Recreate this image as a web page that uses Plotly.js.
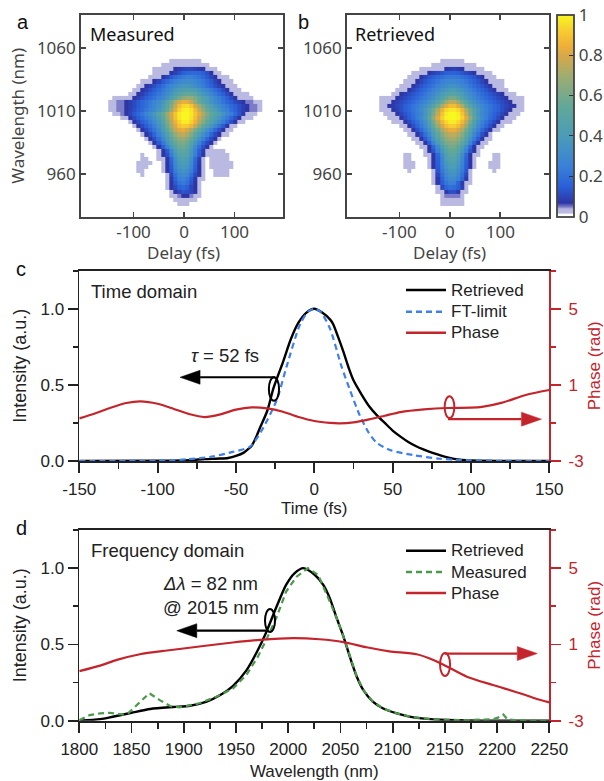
<!DOCTYPE html>
<html><head><meta charset="utf-8"><script src="https://cdn.plot.ly/plotly-3.0.1.min.js"></script>
<style>html,body{margin:0;padding:0;background:#fff}#g{width:604px;height:781px}</style></head>
<body><div id="g"></div><script>
const delaysA=[-146,-138,-130,-122,-114,-106,-98,-90,-82,-74,-66,-58,-50,-42,-34,-26,-18,-10,-2,6,14,22,30,38,46,54,62,70,78,86,94,102,110,118,126,134,142,150];
const delaysB=[-136,-128,-120,-112,-104,-96,-88,-80,-72,-64,-56,-48,-40,-32,-24,-16,-8,0,8,16,24,32,40,48,56,64,72,80,88,96,104,112,120,128,136,144];
const wavelengths=[1049.9,1046.6,1043.4,1040.2,1036.9,1033.7,1030.5,1027.2,1024,1020.8,1017.5,1014.3,1011.1,1007.8,1004.6,1001.4,998.1,994.9,991.7,988.4,985.2,982,978.7,975.5,972.3,969,965.8,962.6,959.3,956.1,952.9,949.6,946.4,943.2,939.9,936.7];
// FROG traces, percent of peak. Each row: segments of [first column, values...]
const measuredRows=[
[[15,3,3,3,3,3,3,3,3]],
[[13,3,3,3,3,3,3,3,3,3,3,3,3]],
[[11,3,3,3,3,3,7,8,9,10,10,9,8,7,3,3,3]],
[[11,3,3,3,3,7,9,12,15,17,18,18,17,15,12,7,3,3]],
[[10,3,3,3,7,10,14,18,21,23,25,25,23,21,18,14,10,7,3,3,3]],
[[8,3,3,3,7,10,14,18,22,25,28,30,31,30,28,25,22,18,14,10,7,3,3,3]],
[[7,3,3,7,9,12,16,20,24,28,32,35,37,37,35,32,28,24,20,16,12,9,7,3,3,3]],
[[6,3,3,7,9,12,15,19,23,27,32,37,41,44,45,44,41,37,32,27,23,19,15,11,7,3,3,3]],
[[5,3,3,7,9,12,15,18,22,26,31,37,43,49,53,55,54,50,44,38,33,28,23,19,15,11,7,3,3,3,3]],
[[1,3,3,3,3,3,7,9,12,15,18,21,25,29,35,42,50,58,65,68,67,61,53,46,40,34,29,24,20,15,11,7,3,3,3,3]],
[[0,3,3,5,5,7,9,11,14,17,20,23,27,32,38,47,58,70,80,84,83,76,66,56,48,41,35,30,25,21,17,14,11,9,7,5,5,3,3]],
[[0,3,3,5,5,7,9,11,14,17,20,24,28,33,40,50,62,76,88,94,95,90,80,69,59,50,43,36,31,26,22,18,15,12,9,7,5,5,3]],
[[0,3,3,5,5,7,9,12,15,18,22,26,30,36,44,55,68,82,93,98,99,96,87,76,65,56,48,41,35,29,25,20,16,12,9,7,5,5,3]],
[[1,3,3,5,7,10,14,18,22,27,32,38,46,56,68,80,90,97,100,100,97,90,82,72,62,54,47,41,35,29,24,18,13,8,3,3,3]],
[[3,3,3,7,11,15,19,23,28,34,42,52,65,78,89,97,100,100,96,88,78,68,58,50,43,36,29,23,17,12,7,3,3,3]],
[[5,3,7,11,15,19,24,30,38,48,61,74,85,93,98,98,93,85,74,63,53,45,38,31,24,18,12,7,3,3]],
[[6,3,7,11,15,20,26,34,44,57,70,81,89,92,91,86,76,64,54,45,37,29,21,14,7,3,3]],
[[7,3,7,11,16,22,30,40,52,65,76,82,84,80,72,61,51,42,34,26,18,12,7,3,3]],
[[8,3,7,11,17,25,34,45,57,68,74,76,72,63,52,42,33,25,17,11,7,3,3]],
[[9,3,7,12,20,29,39,50,60,66,68,64,55,44,34,25,17,11,7,3]],
[[10,3,7,14,23,34,45,55,61,62,57,47,36,26,17,11,7,3]],
[[11,3,7,15,26,38,49,56,58,53,42,30,20,12,7,3]],
[[12,3,7,14,28,41,50,53,49,38,26,15,8,3,3,3,3,3]],
[[8,3],[12,3,7,12,24,37,46,49,46,36,24,14,7,3,3,3,3,3,3]],
[[8,3,3],[12,3,3,7,18,32,42,45,42,32,18,9,3],[25,3,3,3,3,3]],
[[7,3,3,3,3],[13,3,7,16,30,39,42,39,30,17,8,3],[25,3,3,3,3,3,3]],
[[7,3,3,3],[13,3,7,14,27,36,39,36,27,15,7,3],[25,3,3,3,3,3,3]],
[[7,3,3],[13,3,7,13,24,32,35,32,24,14,7,3],[26,3,3,3,3]],
[[8,3],[14,3,10,20,28,31,28,20,11,7,3],[26,3,3,3,3]],
[[14,3,8,17,25,27,23,15,8,3,3]],
[[14,3,7,14,21,23,20,13,7,3]],
[[14,3,7,11,16,18,15,10,7,3]],
[[15,3,7,10,13,12,10,7,3]],
[[15,3,3,5,7,7,5,3,3]],
[[16,3,3,3,3,3,3]],
[[17,3,3,3]]];
const retrievedRows=[
[[15,3,3,3,3,3,3]],
[[13,3,3,3,3,3,3,3,3,3,3,3]],
[[10,3,3,3,3,3,3,7,8,9,8,7,3,3,3,3,3]],
[[8,3,3,3,3,7,9,11,13,15,16,16,15,13,11,9,7,3,3,3,3]],
[[7,3,3,3,7,10,13,15,18,20,22,23,23,22,20,18,15,13,10,7,3,3,3]],
[[6,3,3,3,7,10,13,16,19,22,25,27,28,28,27,25,22,19,16,13,10,7,3,3,3,3]],
[[5,3,3,3,7,10,13,16,19,22,26,29,32,34,34,32,29,26,22,19,16,13,10,7,3,3,3]],
[[4,3,3,3,7,10,13,16,19,22,26,30,34,38,41,41,38,34,30,26,22,19,16,13,10,7,3,3,3]],
[[3,3,3,7,9,11,13,16,19,22,26,30,35,40,45,49,49,45,40,35,30,26,22,19,16,13,11,9,7,3,3,3]],
[[0,3,3,3,3,7,9,11,13,15,18,21,24,28,33,39,46,54,60,60,54,46,39,33,28,24,21,18,15,13,11,9,7,3,3,3,3]],
[[0,3,3,3,7,9,11,13,15,18,21,24,28,33,39,47,57,68,75,75,68,57,47,39,33,28,24,21,18,15,13,11,9,7,3,3,3]],
[[0,3,3,7,8,10,12,15,18,21,24,28,33,39,47,58,71,82,88,88,82,71,58,47,39,33,28,24,21,18,15,12,10,8,7,3,3]],
[[0,3,3,3,7,9,12,15,18,21,25,30,37,46,58,72,86,94,97,97,94,86,72,58,46,37,30,25,21,18,15,12,9,7,3,3,3]],
[[1,3,3,3,7,10,13,16,20,24,29,36,46,60,76,90,98,100,100,98,90,76,60,46,36,29,24,20,16,13,10,7,3,3,3]],
[[2,3,3,3,7,11,15,19,24,30,38,50,66,82,93,99,100,100,99,93,82,66,50,38,30,24,19,15,11,7,3,3,3]],
[[3,3,3,3,7,11,15,20,26,33,44,59,75,87,94,98,98,94,87,75,59,44,33,26,20,15,11,7,3,3,3]],
[[5,3,3,7,12,17,23,30,40,53,68,80,88,92,92,88,80,68,53,40,30,23,17,12,7,3,3]],
[[6,3,3,7,12,18,25,34,46,59,71,80,84,84,80,71,59,46,34,25,18,12,7,3,3]],
[[7,3,3,7,12,20,29,40,52,64,72,76,76,72,64,52,40,29,20,12,7,3]],
[[8,3,3,7,14,23,34,46,58,66,70,70,66,58,46,34,23,14,7,3,3]],
[[9,3,3,7,15,27,40,52,60,64,64,60,52,40,27,15,7,3,3]],
[[10,3,3,7,17,30,44,54,59,59,54,44,30,17,7,3,3]],
[[11,3,7,13,25,38,49,55,55,49,38,25,13,7,3]],
[[6,3,3],[11,3,3,7,18,32,44,51,51,44,32,18,7,3,3],[28,3,3]],
[[6,3,3],[12,3,7,16,29,41,47,47,41,29,16,7,3],[28,3,3]],
[[6,3,3,3],[12,3,7,15,27,38,44,44,38,27,15,7,3],[27,3,3,3]],
[[6,3,3,3],[12,3,7,14,25,35,41,41,35,25,14,7,3],[27,3,3,3]],
[[7,3],[13,3,13,23,32,37,37,32,23,13,3],[28,3]],
[[13,3,10,20,29,34,34,29,20,10,3]],
[[13,3,8,17,25,30,30,25,17,8,3]],
[[13,3,8,15,22,26,25,16,8,3,3]],
[[14,3,11,17,20,19,15,9,3]],
[[14,3,3,8,12,12,8,3,3]],
[[15,3,5,5,5,5,3]],
[[15,3,3,3,3,3,3]],
[[15,3,3,3,3,3,3]]];
const timeRetrieved=[-150,-100,-80,-70,-60,-55,-50,-45,-42,-40,-37,-35,-30,-26,-20,-15,-10,-5,0,5,10,12,15,18.5,22,25,30,35,40,45,50,55,60,65,70,76,85,93,100,120,150];
const intensityRetrieved=[0,0.002,0.006,0.012,0.016,0.02,0.033,0.055,0.08,0.1,0.16,0.21,0.33,0.48,0.65,0.8,0.91,0.975,1,0.975,0.93,0.9,0.82,0.72,0.61,0.53,0.44,0.36,0.3,0.25,0.2,0.16,0.125,0.097,0.075,0.052,0.024,0.008,0.004,0.001,0];
const timeLimit=[-150,-100,-81,-64.5,-52,-41,-33.6,-24,-17.7,-9,-4,0,4,10,17.4,22.8,29,34.5,39.8,48.3,63,80,93,120,150];
const intensityLimit=[0,0.002,0.011,0.03,0.06,0.094,0.2,0.4,0.62,0.9,0.98,1,0.98,0.87,0.62,0.465,0.3,0.19,0.12,0.072,0.039,0.015,0.007,0.001,0];
const timePhaseX=[-150,-140,-130,-120,-111,-100,-90,-80,-70,-60,-50,-40,-30,-20,-10,0,10,16,25,35,45,55,70,85,100,107,120,135,150];
const timePhase=[-0.76,-0.5,-0.2,0.05,0.135,0.01,-0.25,-0.53,-0.69,-0.55,-0.3,-0.18,-0.23,-0.41,-0.69,-0.9,-1,-1.02,-0.97,-0.81,-0.62,-0.43,-0.29,-0.215,-0.2,-0.16,0.065,0.47,0.73];
const waveRetrieved=[1800,1820,1832,1850,1868,1890,1906,1922,1935,1947,1960,1970,1979,1989,1998,2006,2014.5,2025.6,2033.6,2040,2046,2053,2059,2065.6,2072,2081,2091,2104,2120,2139,2171,2250];
const specRetrieved=[0,0.01,0.026,0.052,0.077,0.09,0.098,0.125,0.168,0.227,0.33,0.45,0.58,0.75,0.89,0.966,1,0.955,0.89,0.8,0.68,0.55,0.42,0.29,0.2,0.125,0.08,0.048,0.022,0.009,0.002,0];
const waveMeasured=[1800,1810,1820,1829,1842,1847,1857,1867,1877,1887,1896,1915,1931,1947,1960,1971,1979,1989,1998,2008,2019,2028.7,2038,2046,2053,2059,2065.6,2072,2081,2091,2104,2120,2139,2171,2196,2203,2206,2210,2220,2250];
const specMeasured=[0.004,0.037,0.048,0.052,0.04,0.05,0.115,0.18,0.135,0.096,0.087,0.114,0.157,0.21,0.3,0.42,0.53,0.68,0.846,0.944,1,0.955,0.81,0.68,0.55,0.42,0.29,0.2,0.125,0.08,0.048,0.022,0.009,0.003,0.01,0.025,0.04,0.008,0.002,0];
const wavePhaseX=[1800,1820,1836,1858,1884,1915,1947,1973,2005,2030,2053,2075,2097,2123,2139,2152,2171,2196,2222,2238,2250];
const wavePhase=[-0.4,-0.11,0.187,0.485,0.68,0.89,1.1,1.24,1.33,1.27,1.12,0.85,0.64,0.485,0.187,-0.16,-0.69,-1.13,-1.56,-1.86,-2.04];
const frogColors=[[0,'#ffffff'],[0.012,'#ffffff'],[0.02,'#bdbde3'],[0.04,'#b4b4df'],[0.05,'#7b7bc8'],[0.07,'#2e35a5'],[0.15,'#2a5fd8'],[0.25,'#3a80d8'],[0.4,'#4a9cb8'],[0.55,'#62a898'],[0.7,'#a0ac70'],[0.8,'#d8a848'],[0.85,'#f0b038'],[0.93,'#f8d030'],[1,'#f8f820']];

function grid(rows,n){return rows.map(segs=>{const r=new Array(n).fill(0);segs.forEach(s=>s.slice(1).forEach((v,i)=>{r[s[0]+i]=v/100;}));return r;});}
const W=604,H=781;
const xd=(a,b)=>[a/W,b/W], yd=(top,bot)=>[1-bot/H,1-top/H];
const ARIAL='Liberation Sans, Arial, sans-serif', SANS='Noto Sans, sans-serif';
const RED='#c4242c', BLUE='#3f80ea', GREEN='#4b9a4b', INK='#222';

const traces=[
 {type:'heatmap',x:delaysA,y:wavelengths,z:grid(measuredRows,38),coloraxis:'coloraxis',xaxis:'x',yaxis:'y',hoverinfo:'skip'},
 {type:'heatmap',x:delaysB,y:wavelengths,z:grid(retrievedRows,36),coloraxis:'coloraxis',xaxis:'x2',yaxis:'y2',hoverinfo:'skip'},
 {type:'scatter',mode:'lines',name:'Retrieved',x:timeRetrieved,y:intensityRetrieved,xaxis:'x3',yaxis:'y3',line:{color:'#000',width:2.4,shape:'spline',smoothing:0.7}},
 {type:'scatter',mode:'lines',name:'FT-limit',x:timeLimit,y:intensityLimit,xaxis:'x3',yaxis:'y3',line:{color:BLUE,width:2.2,dash:'6px,4px',shape:'spline',smoothing:0.7}},
 {type:'scatter',mode:'lines',name:'Phase',x:timePhaseX,y:timePhase,xaxis:'x3',yaxis:'y4',line:{color:RED,width:2.2,shape:'spline',smoothing:0.7}},
 {type:'scatter',mode:'lines',name:'Retrieved',x:waveRetrieved,y:specRetrieved,xaxis:'x4',yaxis:'y5',line:{color:'#000',width:2.4,shape:'spline',smoothing:0.7}},
 {type:'scatter',mode:'lines',name:'Measured',x:waveMeasured,y:specMeasured,xaxis:'x4',yaxis:'y5',line:{color:GREEN,width:2.2,dash:'6px,4px'}},
 {type:'scatter',mode:'lines',name:'Phase',x:wavePhaseX,y:wavePhase,xaxis:'x4',yaxis:'y6',line:{color:RED,width:2.2,shape:'spline',smoothing:0.7}}
];
const frogX={range:[-204,196],tickmode:'array',tickvals:[-100,0,100],ticktext:['-100','0','100'],ticks:'inside',ticklen:5,tickwidth:1.8,tickcolor:'#444',linecolor:'#444',linewidth:1.8,mirror:'ticks',showgrid:false,zeroline:false,ticklabelstandoff:-1,tickfont:{family:SANS,size:17,color:'#444'}};
const frogY=(t)=>({range:[926.4,1086.4],tickmode:'array',tickvals:[960,1010,1060],ticktext:['960','1010','1060'],ticks:'inside',ticklen:5,tickwidth:1.8,tickcolor:'#444',linecolor:'#444',linewidth:1.8,mirror:'ticks',showgrid:false,zeroline:false,tickfont:{family:SANS,size:17,color:'#444'},title:t?{text:t,font:{family:SANS,size:17,color:'#444'},standoff:8}:undefined});
function lineX(vals,minor,title,range,st){return {range:range,tickmode:'array',tickvals:vals,ticktext:vals.map(String),ticks:'outside',ticklen:10,tickwidth:1.8,tickcolor:INK,linecolor:INK,linewidth:1.8,mirror:true,showgrid:false,zeroline:false,ticklabelstandoff:2,tickfont:{family:ARIAL,size:17,color:INK},minor:{tickmode:'array',tickvals:minor,ticks:'outside',ticklen:6,tickwidth:1.8,tickcolor:INK},title:{text:title,font:{family:ARIAL,size:17,color:INK},standoff:st}};}
function leftY(){return {range:[0,1.25],tickmode:'array',tickvals:[0,0.5,1],ticktext:['0.0','0.5','1.0'],ticks:'outside',ticklen:10,tickwidth:1.8,tickcolor:INK,linecolor:INK,linewidth:1.8,showgrid:false,zeroline:false,tickfont:{family:ARIAL,size:17,color:INK},minor:{tickmode:'array',tickvals:[0.25,0.75,1.25],ticks:'outside',ticklen:5,tickwidth:1.8,tickcolor:INK},title:{text:'Intensity (a.u.)',font:{family:ARIAL,size:18,color:INK},standoff:9}};}
function rightY(over,anc){return {overlaying:over,anchor:anc,side:'right',range:[-3,7],tickmode:'array',tickvals:[-3,1,5],ticktext:['-3','1','5'],ticks:'outside',ticklen:10,tickwidth:1.8,tickcolor:RED,linecolor:RED,linewidth:1.8,showgrid:false,zeroline:false,ticklabelstandoff:4,tickfont:{family:ARIAL,size:17,color:RED},minor:{tickmode:'array',tickvals:[-1,3,7],ticks:'outside',ticklen:5,tickwidth:1.8,tickcolor:RED},title:{text:'Phase (rad)',font:{family:ARIAL,size:17,color:RED},standoff:10}};}
function label(t,px,py,o){return Object.assign({text:t,xref:'paper',yref:'paper',x:px/W,y:1-py/H,showarrow:false,xanchor:'left',yanchor:'middle',font:{family:ARIAL,size:18.5,color:INK}},o||{});}
function arrowShapes(xr,yr,tip,tail,y,headLen,col){const dir=tip<tail?1:-1,base=tip+dir*headLen,h=0.046;return [
 {type:'line',xref:xr,yref:yr,x0:tail,x1:base,y0:y,y1:y,line:{color:col,width:2.2}},
 {type:'path',xref:xr,yref:yr,path:`M${tip},${y} L${base},${y+h} L${base},${y-h} Z`,fillcolor:col,line:{color:col,width:0.5}}];}
function ell(xr,yr,x0,x1,y0,y1,col){return {type:'circle',xref:xr,yref:yr,x0,x1,y0,y1,line:{color:col,width:2}};}
function keyLine(py,col,dash){return {type:'line',xref:'paper',yref:'paper',x0:406/W,x1:446/W,y0:1-py/H,y1:1-py/H,line:{color:col,width:2.4,dash:dash}};}

const panelText={family:ARIAL,size:20,color:'#111'}, innerText={family:SANS,size:18,color:'#111'}, delayText={family:SANS,size:17,color:'#444'};
const layout={width:W,height:H,margin:{l:0,r:0,t:0,b:0,pad:0,autoexpand:false},paper_bgcolor:'#fff',plot_bgcolor:'#fff',showlegend:false,
 coloraxis:{cmin:0,cmax:1,colorscale:frogColors,colorbar:{x:556.7/W,xanchor:'left',y:1-216.7/H,yanchor:'bottom',len:201.7/H,lenmode:'fraction',thickness:16.6,thicknessmode:'pixels',xpad:0,ypad:0,outlinewidth:1.8,outlinecolor:'#444',tickmode:'array',tickvals:[0,0.2,0.4,0.6,0.8,1],ticktext:['0','0.2','0.4','0.6','0.8','1'],ticks:'inside',ticklen:5,tickcolor:'#333',tickfont:{family:SANS,size:17,color:'#444'}}},
 xaxis:Object.assign({},frogX,{domain:xd(81,283),anchor:'y'}),
 yaxis:Object.assign(frogY('Wavelength (nm)'),{domain:yd(15,216.7),anchor:'x'}),
 xaxis2:Object.assign({},frogX,{domain:xd(347,548.7),anchor:'y2'}),
 yaxis2:Object.assign(frogY(),{domain:yd(15,216.7),anchor:'x2'}),
 xaxis3:Object.assign(lineX([-150,-100,-50,0,50,100,150],[-125,-75,-25,25,75,125],'Time (fs)',[-150,150],4),{domain:xd(79.3,549.3),anchor:'y3'}),
 yaxis3:Object.assign(leftY(),{domain:yd(270.7,461),anchor:'x3'}),
 yaxis4:rightY('y3','x3'),
 xaxis4:Object.assign(lineX([1800,1850,1900,1950,2000,2050,2100,2150,2200,2250],[1825,1875,1925,1975,2025,2075,2125,2175,2225],'Wavelength (nm)',[1800,2250],8),{domain:xd(79.3,549.3),anchor:'y5'}),
 yaxis5:Object.assign(leftY(),{domain:yd(530,720.7),anchor:'x4'}),
 yaxis6:rightY('y5','x4'),
 shapes:[ell('x3','y3',-29,-22.5,0.395,0.55,'#000'),ell('x3','y3',83.2,89.4,0.282,0.426,RED),ell('x4','y5',1977.8,1987.4,0.582,0.732,'#000'),ell('x4','y5',2145.4,2155,0.293,0.444,RED),
  ...arrowShapes('x3','y3',-85.7,-25,0.55,12.8,'#000'),...arrowShapes('x3','y3',145,85.3,0.275,12.8,RED),
  ...arrowShapes('x4','y5',1893.3,1980.7,0.59,19.2,'#000'),...arrowShapes('x4','y5',2238.5,2150,0.44,19.2,RED),
  keyLine(290,'#000'),keyLine(311.7,BLUE,'6px,4px'),keyLine(332.7,RED),keyLine(550.7,'#000'),keyLine(572,GREEN,'6px,4px'),keyLine(593,RED)],
 annotations:[
  label('a',15,22,{font:panelText}),label('b',296,22,{font:panelText}),label('c',14,269,{font:panelText}),label('d',14,528,{font:panelText}),
  label('Measured',87.5,34,{font:innerText}),label('Retrieved',353,34,{font:innerText}),
  label('Delay (fs)',183,252,{font:delayText,xanchor:'center'}),label('Delay (fs)',449,252,{font:delayText,xanchor:'center'}),
  label('Time domain',88.5,291),label('Frequency domain',88.5,550),
  label('<i>τ</i> = 52 fs',188.5,355),label('<i>Δλ</i> = 82 nm',160.5,583),label('@ 2015 nm',160.5,607),
  label('Retrieved',449,290,{font:{family:ARIAL,size:17,color:INK}}),label('FT-limit',449,311.7,{font:{family:ARIAL,size:17,color:INK}}),label('Phase',449,332.7,{font:{family:ARIAL,size:17,color:INK}}),
  label('Retrieved',448.5,550.7,{font:{family:ARIAL,size:17,color:INK}}),label('Measured',448.5,572,{font:{family:ARIAL,size:17,color:INK}}),label('Phase',448.5,593,{font:{family:ARIAL,size:17,color:INK}})
 ]};
Plotly.newPlot('g',traces,layout,{staticPlot:true,displayModeBar:false});
</script></body></html>
